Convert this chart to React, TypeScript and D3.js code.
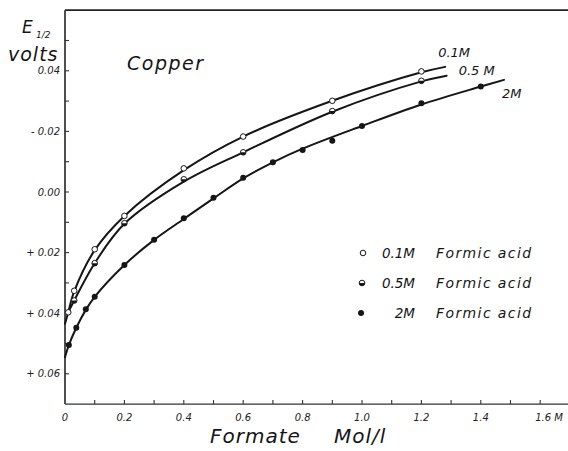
import React from "react";
import * as d3 from "d3";

// formate concentration (mol/l) and E1/2 (volts)
const acid01X = [0.011, 0.031, 0.1, 0.2, 0.4, 0.6, 0.9, 1.2];
const acid01Y = [0.0397, 0.0326, 0.0189, 0.0079, -0.0078, -0.0183, -0.0301, -0.0398];

const acid05X = [0.031, 0.1, 0.2, 0.4, 0.6, 0.9, 1.2];
const acid05Y = [0.0358, 0.0235, 0.0103, -0.0042, -0.0131, -0.0267, -0.0367];

const acid2X = [0.013, 0.038, 0.07, 0.1, 0.2, 0.3, 0.4, 0.5, 0.6, 0.7, 0.8, 0.9, 1.0, 1.2, 1.4];
const acid2Y = [0.0505, 0.0448, 0.0387, 0.0346, 0.0241, 0.0158, 0.0087, 0.0019, -0.0047, -0.0098, -0.0139, -0.0169, -0.0218, -0.0293, -0.0348];

// hand drawn smooth curves
const curve01X = [0, 0.011, 0.031, 0.1, 0.2, 0.4, 0.6, 0.9, 1.2, 1.28];
const curve01Y = [0.0435, 0.0397, 0.0328, 0.0192, 0.0079, -0.0072, -0.0183, -0.0301, -0.0395, -0.0413];
const curve05X = [0.012, 0.031, 0.1, 0.2, 0.4, 0.6, 0.9, 1.2, 1.285];
const curve05Y = [0.0395, 0.0358, 0.0235, 0.0105, -0.0034, -0.0131, -0.0265, -0.0365, -0.0384];
const curve2X = [0, 0.013, 0.038, 0.07, 0.1, 0.2, 0.3, 0.4, 0.5, 0.6, 0.7, 0.8, 1.0, 1.2, 1.4, 1.478];
const curve2Y = [0.0545, 0.0505, 0.0448, 0.0389, 0.0346, 0.0241, 0.0158, 0.0089, 0.0021, -0.0045, -0.0098, -0.0143, -0.0218, -0.0289, -0.0348, -0.037];

const yTickValues = [-0.04, -0.02, 0, 0.02, 0.04, 0.06];
const yTickLabels = ["0.04", "- 0.02", "0.00", "+ 0.02", "+ 0.04", "+ 0.06"];
const yMinorTicks = [-0.05, -0.04, -0.03, -0.02, -0.01, 0, 0.01, 0.02, 0.03, 0.04, 0.05, 0.06];

const xTickValues = [0, 0.2, 0.4, 0.6, 0.8, 1.0, 1.2, 1.4, 1.6];
const xTickLabels = ["0", "0.2", "0.4", "0.6", "0.8", "1.0", "1.2", "1.4", "1.6 M"];
const xMinorTicks = [0.1, 0.2, 0.3, 0.4, 0.5, 0.6, 0.7, 0.8, 0.9, 1.0, 1.1, 1.2, 1.3, 1.4, 1.5, 1.6];

const seriesNames = ["0.1M", "0.5M", "2M"];
const curveLabels = ["0.1M", "0.5 M", "2M"];

const W = 568;
const H = 451;
const INK = "#151515";
const FONT = "'DejaVu Sans', sans-serif";

const zip = (xs: number[], ys: number[]) => xs.map((x, i) => [x, ys[i]] as [number, number]);

const Marker = ({ kind, cx, cy }: { kind: number; cx: number; cy: number }) => {
  const r = kind === 2 ? 3 : 2.8;
  if (kind === 0) {
    return <circle cx={cx} cy={cy} r={r} fill="#fff" stroke={INK} strokeWidth={1} />;
  }
  if (kind === 1) {
    return (
      <g transform={`translate(${cx},${cy})`}>
        <circle r={r} fill="#fff" stroke={INK} strokeWidth={1} />
        <path d={`M${-r},0 A${r},${r} 0 0 0 ${r},0 Z`} fill={INK} />
      </g>
    );
  }
  return <circle cx={cx} cy={cy} r={r} fill={INK} />;
};

export default function App() {
  const x = d3.scaleLinear().domain([0, 1]).range([65, 362]);
  const y = d3.scaleLinear().domain([0, 0.01]).range([192, 222.3]);

  const line = d3
    .line<[number, number]>()
    .x((d) => x(d[0]))
    .y((d) => y(d[1]))
    .curve(d3.curveCatmullRom.alpha(0.5));

  const curves = [zip(curve01X, curve01Y), zip(curve05X, curve05Y), zip(curve2X, curve2Y)];
  const points = [zip(acid01X, acid01Y), zip(acid05X, acid05Y), zip(acid2X, acid2Y)];
  const curveEnds = curves.map((c) => c[c.length - 1]);

  const x0 = x(0);
  const yTop = y(-0.06);
  const yBot = y(0.07);

  return (
    <svg
      width={W}
      height={H}
      style={{ position: "absolute", left: 0, top: 0, background: "#fff" }}
      fontFamily={FONT}
    >
      <rect width={W} height={H} fill="#fff" />

      {/* frame */}
      <line x1={x0} x2={W} y1={yTop} y2={yTop} stroke="#222" strokeWidth={1.7} />
      <line x1={x0} x2={x0} y1={yTop} y2={yBot} stroke="#222" strokeWidth={1.6} />
      <line x1={x0} x2={W} y1={yBot} y2={yBot} stroke="#333" strokeWidth={1.4} />

      {/* y ticks */}
      {yMinorTicks.map((v) => (
        <line key={v} x1={x0} x2={x0 + 4} y1={y(v)} y2={y(v)} stroke="#333" strokeWidth={1.1} />
      ))}
      {yTickValues.map((v, i) => (
        <text
          key={v}
          x={60}
          y={y(v)}
          dy="0.35em"
          textAnchor="end"
          fontSize={10}
          fontStyle="italic"
          fill="#222"
        >
          {yTickLabels[i]}
        </text>
      ))}

      {/* x ticks */}
      {xMinorTicks.map((v) => (
        <line key={v} x1={x(v)} x2={x(v)} y1={yBot} y2={yBot - 4} stroke="#333" strokeWidth={1.1} />
      ))}
      {xTickValues.map((v, i) => {
        const last = i === xTickValues.length - 1;
        return (
          <text
            key={v}
            x={last ? x(v) - 5 : x(v)}
            y={421}
            textAnchor={last ? "start" : "middle"}
            fontSize={10}
            fontStyle="italic"
            fill="#222"
          >
            {xTickLabels[i]}
          </text>
        );
      })}

      {/* axis titles */}
      <text x={22} y={33} fontSize={17} fontStyle="italic" fill={INK}>
        E
      </text>
      <text x={36} y={38} fontSize={9} fontStyle="italic" fill={INK}>
        1/2
      </text>
      <text x={8} y={61} fontSize={19} fontStyle="italic" fill={INK} letterSpacing={1}>
        volts
      </text>
      <text x={210} y={443} fontSize={20} fontStyle="italic" fill={INK} letterSpacing={1}>
        Formate
      </text>
      <text x={334} y={443} fontSize={20} fontStyle="italic" fill={INK} letterSpacing={1}>
        Mol/l
      </text>
      <text x={127} y={70} fontSize={19} fontStyle="italic" fill={INK} letterSpacing={1.5}>
        Copper
      </text>

      {/* curves */}
      {curves.map((c, i) => (
        <path key={i} d={line(c) || ""} fill="none" stroke={INK} strokeWidth={2} strokeLinecap="round" />
      ))}

      {/* measured points */}
      {points.map((pts, i) =>
        pts.map((p, j) => <Marker key={`${i}-${j}`} kind={i} cx={x(p[0])} cy={y(p[1])} />)
      )}

      {/* curve labels */}
      <text x={x(curveEnds[0][0]) - 7} y={57} fontSize={13} fontStyle="italic" fill={INK}>
        {curveLabels[0]}
      </text>
      <text x={x(curveEnds[1][0]) + 12} y={75} fontSize={13} fontStyle="italic" fill={INK}>
        {curveLabels[1]}
      </text>
      <text x={x(curveEnds[2][0]) - 2} y={98} fontSize={13} fontStyle="italic" fill={INK}>
        {curveLabels[2]}
      </text>

      {/* legend */}
      {seriesNames.map((name, i) => {
        const cy = 253 + i * 30;
        return (
          <g key={name}>
            <Marker kind={i} cx={363 - i} cy={cy} />
            <text x={415} y={cy + 5} textAnchor="end" fontSize={13.5} fontStyle="italic" fill={INK}>
              {name}
            </text>
            <text x={436} y={cy + 5} fontSize={14} fontStyle="italic" fill={INK} letterSpacing={1.4}>
              Formic acid
            </text>
          </g>
        );
      })}
    </svg>
  );
}
